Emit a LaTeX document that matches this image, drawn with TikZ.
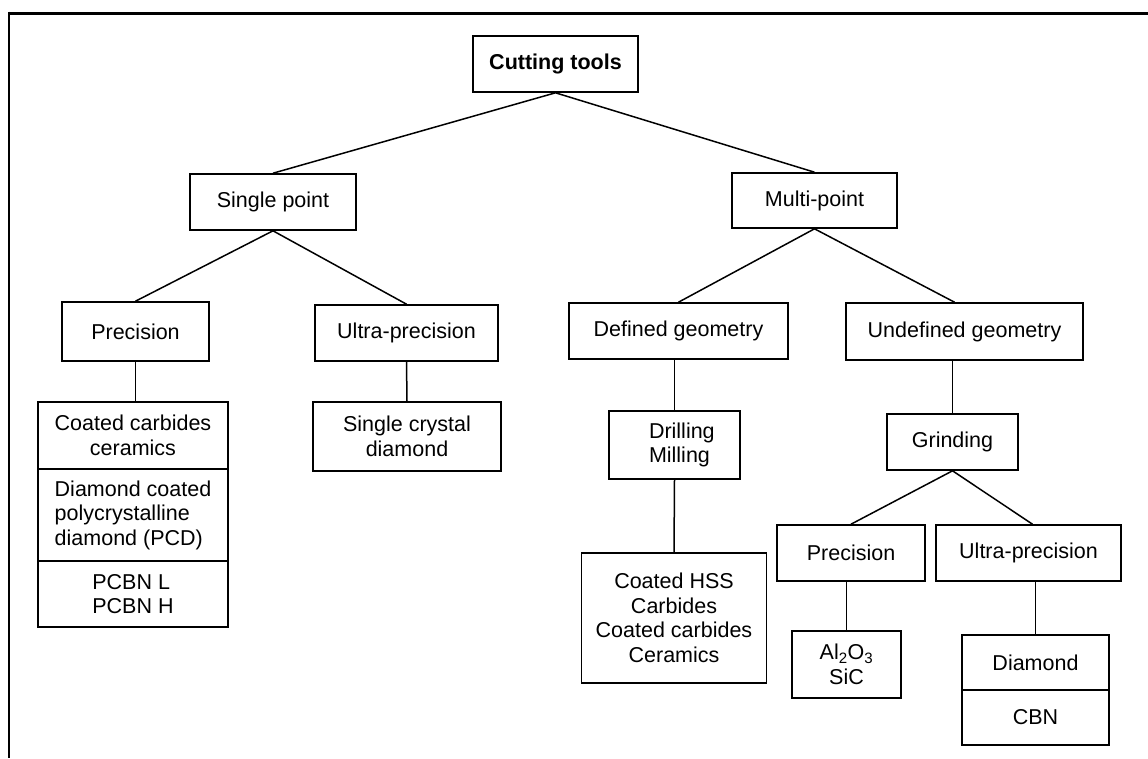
\documentclass[tikz,border=0pt]{standalone}
\usepackage{fontspec}
\setmainfont{Liberation Sans}
\begin{document}
\begin{tikzpicture}[x=1pt,y=-1pt,
  box/.style={draw, line width=1.6pt, rectangle, inner sep=0pt, align=center,
    font=\fontsize{21.5}{24.5}\selectfont},
  link/.style={line width=1.5pt}]
\useasboundingbox (0,0) rectangle (1148,758);
\fill[white] (0,0) rectangle (1148,758);
% frame
\draw[line width=3pt] (9,13) -- (1148,13);
\draw[line width=2.6pt] (9,11.5) -- (9,758);
% level 0
\node[box, minimum width=165, minimum height=56, font=\bfseries\fontsize{21.5}{24.5}\selectfont] (ct) at (555.5,64) {Cutting tools};
% level 1
\node[box, minimum width=166, minimum height=56] (sp) at (273,202) {Single point};
\node[box, minimum width=165, minimum height=55] (mp) at (814.5,200.5) {Multi-point};
% level 2
\node[box, minimum width=147, minimum height=59] (pr) at (135.5,331.5) {Precision};
\node[box, minimum width=183, minimum height=56] (up) at (406.5,333) {Ultra-precision};
\node[box, minimum width=219, minimum height=56] (dg) at (678.5,331) {Defined geometry};
\node[box, minimum width=237, minimum height=57] (ug) at (964.5,331.5) {Undefined geometry};
% left stacked box
\node[box, minimum width=190, minimum height=67] (l1) at (133,435.5) {Coated carbides\\ceramics};
\node[box, minimum width=190, minimum height=92, align=left] (l2) at (133,515) {Diamond coated\\polycrystalline\\diamond (PCD)};
\node[box, minimum width=190, minimum height=66, align=left] (l3) at (133,594) {PCBN L\\PCBN H};
% single crystal
\node[box, minimum width=188, minimum height=69] (sc) at (407,436.5) {Single crystal\\diamond};
% defined geometry branch
\node[box, minimum width=131, minimum height=68, align=left, text width=51] (dm) at (674.5,445) {Drilling\\Milling};
\node[box, minimum width=185, minimum height=130] (hs) at (674,618) {Coated HSS\\Carbides\\Coated carbides\\Ceramics};
% undefined geometry branch
\node[box, minimum width=131, minimum height=56] (gr) at (952.5,442) {Grinding};
\node[box, minimum width=148, minimum height=56] (p2) at (851,553) {Precision};
\node[box, minimum width=185, minimum height=56] (u2) at (1028.5,553) {Ultra-precision};
\node[box, minimum width=109, minimum height=67] (al) at (846.5,664.5) {Al\textsubscript{2}O\textsubscript{3}\\SiC};
\node[box, minimum width=147, minimum height=55] (d1) at (1035.5,662.5) {Diamond};
\node[box, minimum width=147, minimum height=55] (d2) at (1035.5,717.5) {CBN};
% connectors
\draw[link] (ct.south) -- (sp.north);
\draw[link] (ct.south) -- (mp.north);
\draw[link] (sp.south) -- (pr.north);
\draw[link] (sp.south) -- (up.north);
\draw[link] (mp.south) -- (dg.north);
\draw[link] (mp.south) -- ([xshift=-10pt]ug.north);
\draw[link] (pr.south) -- (pr.south |- l1.north);
\draw[link] (up.south) -- (sc.north);
\draw[link] (dm.north |- dg.south) -- (dm.north);
\draw[link] (dm.south) -- (hs.north);
\draw[link] (gr.north |- ug.south) -- (gr.north);
\draw[link] (gr.south) -- (p2.north);
\draw[link] (gr.south) -- ([xshift=4pt]u2.north);
\draw[link] (al.north |- p2.south) -- (al.north);
\draw[link] (d1.north |- u2.south) -- (d1.north);
\end{tikzpicture}
\end{document}
